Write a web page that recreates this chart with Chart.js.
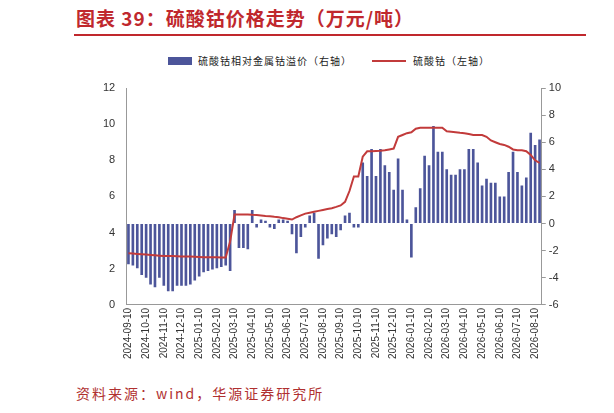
<!DOCTYPE html>
<html><head><meta charset="utf-8">
<script src="https://cdn.jsdelivr.net/npm/chart.js@4"></script>
<style>
body{margin:0;width:614px;height:413px;background:#fff;font-family:"Noto Sans CJK SC",sans-serif;position:relative;overflow:hidden}
#title{position:absolute;left:76px;top:4px;color:#c0282d;font-size:19px;font-weight:bold;letter-spacing:1px}
#rule{position:absolute;left:74px;top:34px;width:512px;height:2px;background:#c0282d}
#src{position:absolute;left:76px;top:383px;color:#b03030;font-size:14px;letter-spacing:2px}
#leg{position:absolute;top:53px;left:168px;font-size:10px;color:#222;display:flex;align-items:center;letter-spacing:1px}
#wrap{position:absolute;left:0;top:40px;width:614px;height:322px}
</style></head><body>
<div id="title">图表 39：硫酸钴价格走势（万元/吨）</div>
<div id="rule"></div>
<div id="leg"><span style="display:inline-block;width:24px;height:8px;background:#4c559a;margin-right:6px"></span>硫酸钴相对金属钴溢价（右轴）<span style="display:inline-block;width:34px;height:2px;background:#c23b3b;margin:0 7px 0 20px"></span>硫酸钴（左轴）</div>
<div id="wrap"><canvas id="c"></canvas></div>
<div id="src">资料来源：wind，华源证券研究所</div>
<script>
const months=["2024-09-10","2024-10-10","2024-11-10","2024-12-10","2025-01-10","2025-02-10","2025-03-10","2025-04-10","2025-05-10","2025-06-10","2025-07-10","2025-08-10","2025-09-10","2025-10-10","2025-11-10","2025-12-10","2026-01-10","2026-02-10","2026-03-10","2026-04-10","2026-05-10","2026-06-10","2026-07-10","2026-08-10"];
const premium=[-3.0,-3.1,-3.3,-3.8,-4.0,-4.5,-4.7,-4.0,-4.6,-5.0,-5.0,-4.6,-4.6,-4.6,-4.5,-4.2,-3.9,-3.6,-3.5,-3.4,-3.3,-3.2,-3.1,-3.5,1.0,-1.8,-1.8,-1.9,1.0,-0.3,0.3,0.2,-0.3,-0.4,0.3,0.3,0.2,-0.8,-2.2,-1.0,-0.3,0.6,0.8,-2.6,-1.6,-1.1,-0.8,-1.0,-0.5,0.6,0.8,-0.3,-0.3,4.5,3.5,5.5,3.5,5.5,4.3,3.8,2.5,4.8,2.5,0.3,-2.5,1.2,2.6,5.0,4.3,7.2,5.3,5.3,4.0,3.6,3.6,4.0,4.0,5.5,5.5,4.5,2.8,3.3,3.0,3.0,2.0,2.0,3.8,5.3,3.8,2.8,3.4,6.7,5.8,6.2];
const price=[2.85,2.84,2.82,2.8,2.78,2.76,2.74,2.72,2.7,2.7,2.7,2.69,2.68,2.68,2.67,2.66,2.65,2.64,2.63,2.63,2.63,2.62,2.62,3.5,5.0,5.0,5.0,5.0,4.98,4.97,4.95,4.92,4.9,4.87,4.85,4.8,4.77,4.72,4.85,4.95,5.05,5.1,5.15,5.2,5.25,5.3,5.35,5.42,5.5,5.7,6.3,7.1,7.1,8.2,8.5,8.5,8.52,8.53,8.55,8.6,8.65,9.3,9.4,9.5,9.55,9.75,9.8,9.8,9.8,9.8,9.8,9.8,9.6,9.58,9.55,9.52,9.5,9.45,9.4,9.4,9.4,9.3,9.1,9.0,8.9,8.85,8.75,8.6,8.55,8.55,8.5,8.3,8.0,7.85];
const labels=premium.map((v,i)=>i%4===0?months[i/4]:"");
new Chart(document.getElementById('c'),{
 data:{labels,datasets:[
  {type:'line',label:'硫酸钴（左轴）',data:price,yAxisID:'yL',borderColor:'#c23b3b',borderWidth:2,pointRadius:0,tension:0},
  {type:'bar',label:'硫酸钴相对金属钴溢价（右轴）',data:premium,yAxisID:'yR',backgroundColor:'#4c559a',barPercentage:0.6,categoryPercentage:1}
 ]},
 options:{responsive:true,maintainAspectRatio:false,animation:false,
  layout:{padding:{left:100,right:50,top:48,bottom:0}},
  plugins:{legend:{display:false},tooltip:{enabled:false}},
  scales:{
   x:{grid:{display:false,drawTicks:false},border:{color:'#999'},ticks:{autoSkip:false,maxRotation:90,minRotation:90,color:'#333',font:{size:10,family:'Liberation Sans'},callback:(v,i)=>labels[i]}},
   yL:{position:'left',min:0,max:12,ticks:{stepSize:2,color:'#333',font:{size:11,family:'Liberation Sans'}},grid:{display:false,drawOnChartArea:false},border:{color:'#999'}},
   yR:{position:'right',min:-6,max:10,ticks:{stepSize:2,color:'#333',font:{size:11,family:'Liberation Sans'}},grid:{drawOnChartArea:false,color:'#999',tickLength:4},border:{color:'#999'}}
  }}
});
</script></body></html>
